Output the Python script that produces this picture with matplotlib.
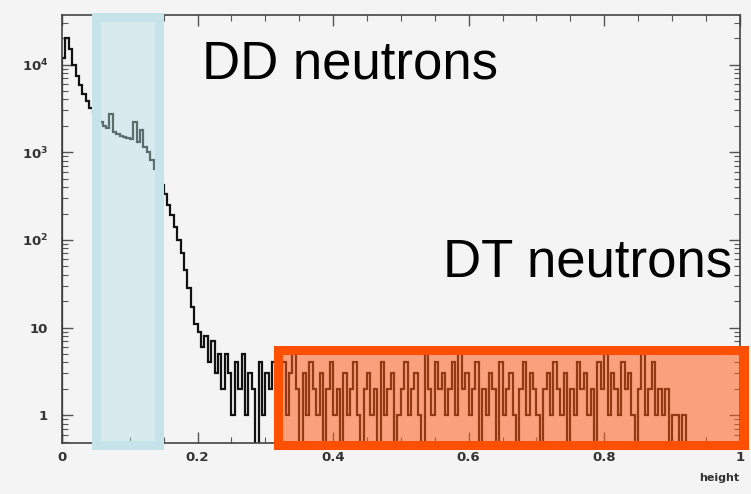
import numpy as np
import matplotlib
matplotlib.use("Agg")
import matplotlib.pyplot as plt
from matplotlib.patches import Rectangle
from matplotlib.ticker import LogLocator, NullFormatter, FixedLocator, MultipleLocator

# histogram: 200 bins of width 0.005 over [0, 1]
bin_edges = np.linspace(0.0, 1.0, 201)
counts_dd = [12000, 20000, 15000, 10000, 7500, 5800, 4600, 3800, 3200, 2800,
             2500, 2200, 2000, 1900, 2700, 1700, 1600, 1550, 1500, 1450,
             1400, 2200, 1300, 1800, 1150, 1000, 820, 650, 520, 420,
             330, 250, 190, 140, 100, 70, 45, 28, 17, 11]
counts_mid = [9, 6, 8, 4, 7, 3, 5, 2, 5, 3,
              1, 4, 2, 5, 1, 3, 2, 0, 4, 1,
              3, 2, 4, 1]
counts_dt = [2, 4, 1, 3, 5, 2, 0, 3, 1, 4,
             2, 1, 3, 0, 2, 4, 1, 2, 0, 3,
             1, 2, 4, 1, 0, 2, 3, 1, 2, 0,
             4, 1, 2, 3, 0, 1, 2, 4, 1, 2,
             3, 1, 0, 5, 2, 1, 4, 2, 3, 1,
             2, 4, 1, 5, 2, 3, 1, 2, 4, 0,
             2, 1, 3, 2, 0, 4, 1, 2, 3, 1,
             0, 2, 4, 1, 3, 2, 1, 0, 2, 3,
             1, 4, 2, 1, 3, 0, 2, 1, 4, 2,
             3, 1, 2, 0, 4, 2, 5, 1, 3, 2,
             1, 4, 2, 3, 1, 0, 2, 5, 1, 2,
             4, 1, 2, 1, 2, 0, 1, 1, 0, 1]
counts_tail = [0] * 16
counts = np.array(counts_dd + counts_mid + counts_dt + counts_tail, dtype=float)

y_tick_vals = [1, 10, 100, 1000, 10000]
y_tick_labels = ["1", "10", r"$\mathbf{10^{2}}$", r"$\mathbf{10^{3}}$", r"$\mathbf{10^{4}}$"]
x_tick_vals = [0, 0.2, 0.4, 0.6, 0.8, 1.0]
x_tick_labels = ["0", "0.2", "0.4", "0.6", "0.8", "1"]

dd_region = (0.0494, 0.1438)
dt_region = (0.318, 1.0066)

BG = "#f4f4f4"
fig = plt.figure(figsize=(7.51, 4.94), dpi=100, facecolor=BG)
ax = fig.add_axes([0.0826, 0.103, 0.9024, 0.867])
ax.set_facecolor(BG)

plot_counts = np.where(counts > 0, counts, 1e-3)
ax.stairs(plot_counts, bin_edges, color="#111111", linewidth=1.6, zorder=2)

ax.set_yscale("log")
ax.set_xlim(0, 1)
ax.set_ylim(0.48, 3.7e4)

ax.yaxis.set_major_locator(FixedLocator(y_tick_vals))
ax.set_yticklabels(y_tick_labels)
ax.yaxis.set_minor_locator(LogLocator(base=10, subs=np.arange(2, 10)))
ax.yaxis.set_minor_formatter(NullFormatter())
ax.xaxis.set_major_locator(FixedLocator(x_tick_vals))
ax.set_xticklabels(x_tick_labels)
ax.xaxis.set_minor_locator(MultipleLocator(0.05))

ax.tick_params(which="both", direction="in", top=True, right=True, color="#555555")
ax.tick_params(axis="y", which="major", length=8, width=1.0, labelsize=9.5, pad=10, labelcolor="#333333")
ax.tick_params(axis="x", which="major", length=8, width=1.0, labelsize=9.5, pad=6, labelcolor="#333333")
ax.tick_params(which="minor", length=4, width=0.8)
for lab in ax.get_xticklabels() + ax.get_yticklabels():
    lab.set_fontweight("bold")
for sp in ax.spines.values():
    sp.set_color("#444444")
    sp.set_linewidth(1.2)

ax.text(1.0, -0.07, "height", transform=ax.transAxes, ha="right", va="top",
        fontsize=8, fontweight="bold", color="#333333")

# highlight boxes
trans = ax.get_xaxis_transform()
blue = Rectangle((dd_region[0], -0.0035), dd_region[1] - dd_region[0], 0.9975,
                 transform=trans, facecolor=(0.72, 0.876, 0.897, 0.45),
                 edgecolor="#c5e3e8", linewidth=6.5, clip_on=False, zorder=3)
ax.add_patch(blue)
orange = Rectangle((dt_region[0], -0.0035), dt_region[1] - dt_region[0], 0.222,
                   transform=trans, facecolor=(1.0, 0.36, 0.10, 0.55),
                   edgecolor="#ff4f00", linewidth=6.5, clip_on=False, zorder=3)
ax.add_patch(orange)

fig.text(202 / 751, 1 - 78 / 494, "DD neutrons", fontsize=38, family="Liberation Sans",
         ha="left", va="baseline", color="black")
fig.text(443 / 751, 1 - 276 / 494, "DT neutrons", fontsize=38, family="Liberation Sans",
         ha="left", va="baseline", color="black")

fig.savefig("out.png", dpi=100, facecolor=BG)
